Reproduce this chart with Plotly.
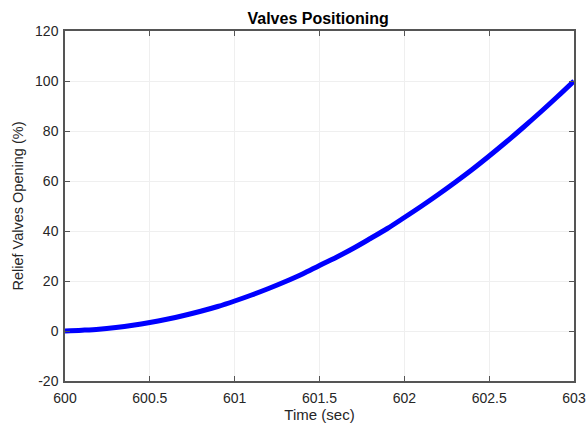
import plotly.graph_objects as go

time_sec = [600.0, 600.1, 600.2, 600.3, 600.4, 600.5, 600.6, 600.7, 600.8, 600.9,
            601.0, 601.1, 601.2, 601.3, 601.4, 601.5, 601.6, 601.7, 601.8, 601.9,
            602.0, 602.1, 602.2, 602.3, 602.4, 602.5, 602.6, 602.7, 602.8, 602.9, 603.0]
opening_pct = [0.0, 0.3, 0.7, 1.4, 2.3, 3.4, 4.7, 6.2, 7.9, 9.8,
               12.0, 14.4, 17.0, 19.8, 22.8, 26.2, 29.5, 33.1, 37.0, 41.0,
               45.4, 49.9, 54.6, 59.5, 64.6, 70.0, 75.6, 81.4, 87.4, 93.6, 100.0]

x_ticks = [600, 600.5, 601, 601.5, 602, 602.5, 603]
x_tick_labels = ["600", "600.5", "601", "601.5", "602", "602.5", "603"]
y_ticks = [-20, 0, 20, 40, 60, 80, 100, 120]
y_tick_labels = ["-20", "0", "20", "40", "60", "80", "100", "120"]

font_family = "Liberation Sans, Arial, sans-serif"

fig = go.Figure()
fig.add_trace(go.Scatter(
    x=time_sec, y=opening_pct, mode="lines",
    line=dict(color="#0000ff", width=5, shape="spline"),
    showlegend=False,
))

axis_common = dict(
    showline=True, linecolor="#555555", linewidth=1.5, mirror="ticks",
    ticks="inside", ticklen=5, tickcolor="#555555",
    showgrid=True, gridcolor="#efefef", gridwidth=1,
    zeroline=False, automargin=False,
    tickfont=dict(family=font_family, size=14, color="#262626"),
)

fig.update_layout(
    width=587, height=425,
    margin=dict(l=65, r=13, t=31, b=44),
    paper_bgcolor="white", plot_bgcolor="white",
    title=dict(text="<b>Valves Positioning</b>", x=0.542, xanchor="center",
               y=0.957, yanchor="middle",
               font=dict(family=font_family, size=16, color="#000000")),
    xaxis=dict(range=[600, 603], tickvals=x_ticks, ticktext=x_tick_labels,
               ticklabelstandoff=3,
               title=dict(text="Time (sec)", standoff=4,
                          font=dict(family=font_family, size=15, color="#262626")),
               **axis_common),
    yaxis=dict(range=[-20, 120], tickvals=y_ticks, ticktext=y_tick_labels,
               ticklabelstandoff=2,
               title=dict(text="Relief Valves Opening (%)", standoff=8,
                          font=dict(family=font_family, size=14.5, color="#262626")),
               **axis_common),
)

fig.write_html("out.html")
